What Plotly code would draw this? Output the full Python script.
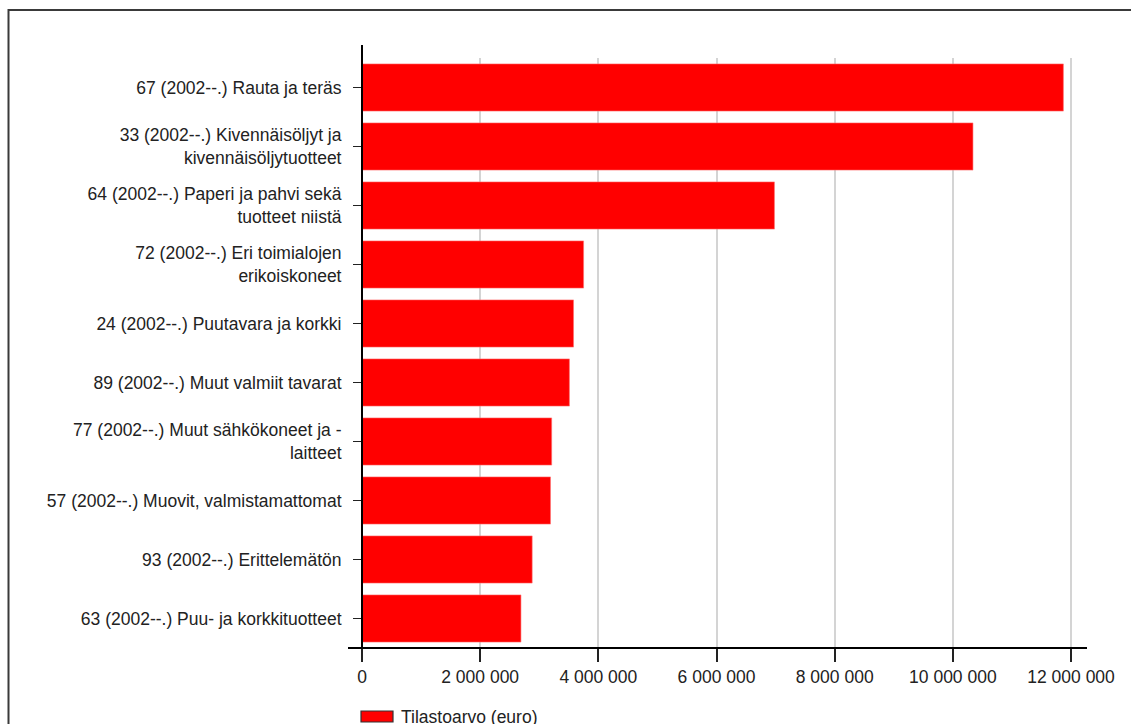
import plotly.graph_objects as go

categories = [
    "67 (2002--.) Rauta ja teräs",
    "33 (2002--.) Kivennäisöljyt ja<br>kivennäisöljytuotteet",
    "64 (2002--.) Paperi ja pahvi sekä<br>tuotteet niistä",
    "72 (2002--.) Eri toimialojen<br>erikoiskoneet",
    "24 (2002--.) Puutavara ja korkki",
    "89 (2002--.) Muut valmiit tavarat",
    "77 (2002--.) Muut sähkökoneet ja -<br>laitteet",
    "57 (2002--.) Muovit, valmistamattomat",
    "93 (2002--.) Erittelemätön",
    "63 (2002--.) Puu- ja korkkituotteet",
]
values = [11870000, 10340000, 6980000, 3750000, 3580000, 3510000, 3210000, 3190000, 2880000, 2690000]
series_name = "Tilastoarvo (euro)"
x_ticks = [0, 2000000, 4000000, 6000000, 8000000, 10000000, 12000000]

W, H = 1131, 724
L, R, T, B = 362, 44, 58, 76
PW, PH = W - L - R, H - T - B

def px_x(p):
    return (p - L) / PW

def px_y(p):
    return (H - B - p) / PH

font = dict(family="Liberation Sans, Arial, sans-serif", size=17.5, color="#222222")

fig = go.Figure(go.Bar(
    x=values, y=categories, orientation="h", name=series_name,
    marker=dict(color="#ff0000", line=dict(color="#ff7070", width=0.6)),
    width=0.8, showlegend=False,
))

fig.update_layout(
    width=W, height=H,
    margin=dict(l=L, r=R, t=T, b=B, pad=0),
    paper_bgcolor="white", plot_bgcolor="white",
    font=font,
    separators=". ",
    xaxis=dict(range=[0, 12.27e6], tickvals=x_ticks, tickformat=",d",
               showgrid=True, gridcolor="#d4d4d4", gridwidth=1.5,
               zeroline=False, showline=False,
               ticks="outside", ticklen=13, tickwidth=2, tickcolor="#222222",
               fixedrange=True),
    yaxis=dict(autorange="reversed", showgrid=False, zeroline=False, showline=False,
               ticks="outside", ticklen=8, tickwidth=1, tickcolor="#222222",
               ticklabelstandoff=8),
    shapes=[
        # chart border
        dict(type="rect", xref="paper", yref="paper",
             x0=px_x(8.5), x1=px_x(1140), y0=px_y(740), y1=px_y(10),
             line=dict(color="#3a3a3a", width=2), layer="below"),
        # y axis line
        dict(type="line", xref="paper", yref="paper",
             x0=0, x1=0, y0=0, y1=px_y(45),
             line=dict(color="black", width=2)),
        # x axis line
        dict(type="line", xref="paper", yref="paper",
             x0=px_x(348), x1=1, y0=0, y1=0,
             line=dict(color="black", width=2)),
        # legend swatch
        dict(type="rect", xref="paper", yref="paper",
             x0=px_x(361), x1=px_x(393), y0=px_y(722), y1=px_y(711),
             fillcolor="#ff0000", line=dict(color="#333333", width=1.2)),
    ],
    annotations=[
        dict(text=series_name, xref="paper", yref="paper",
             x=px_x(399), y=px_y(716.5), xanchor="left", yanchor="middle",
             showarrow=False, font=font),
    ],
)

fig.write_html("out.html")
